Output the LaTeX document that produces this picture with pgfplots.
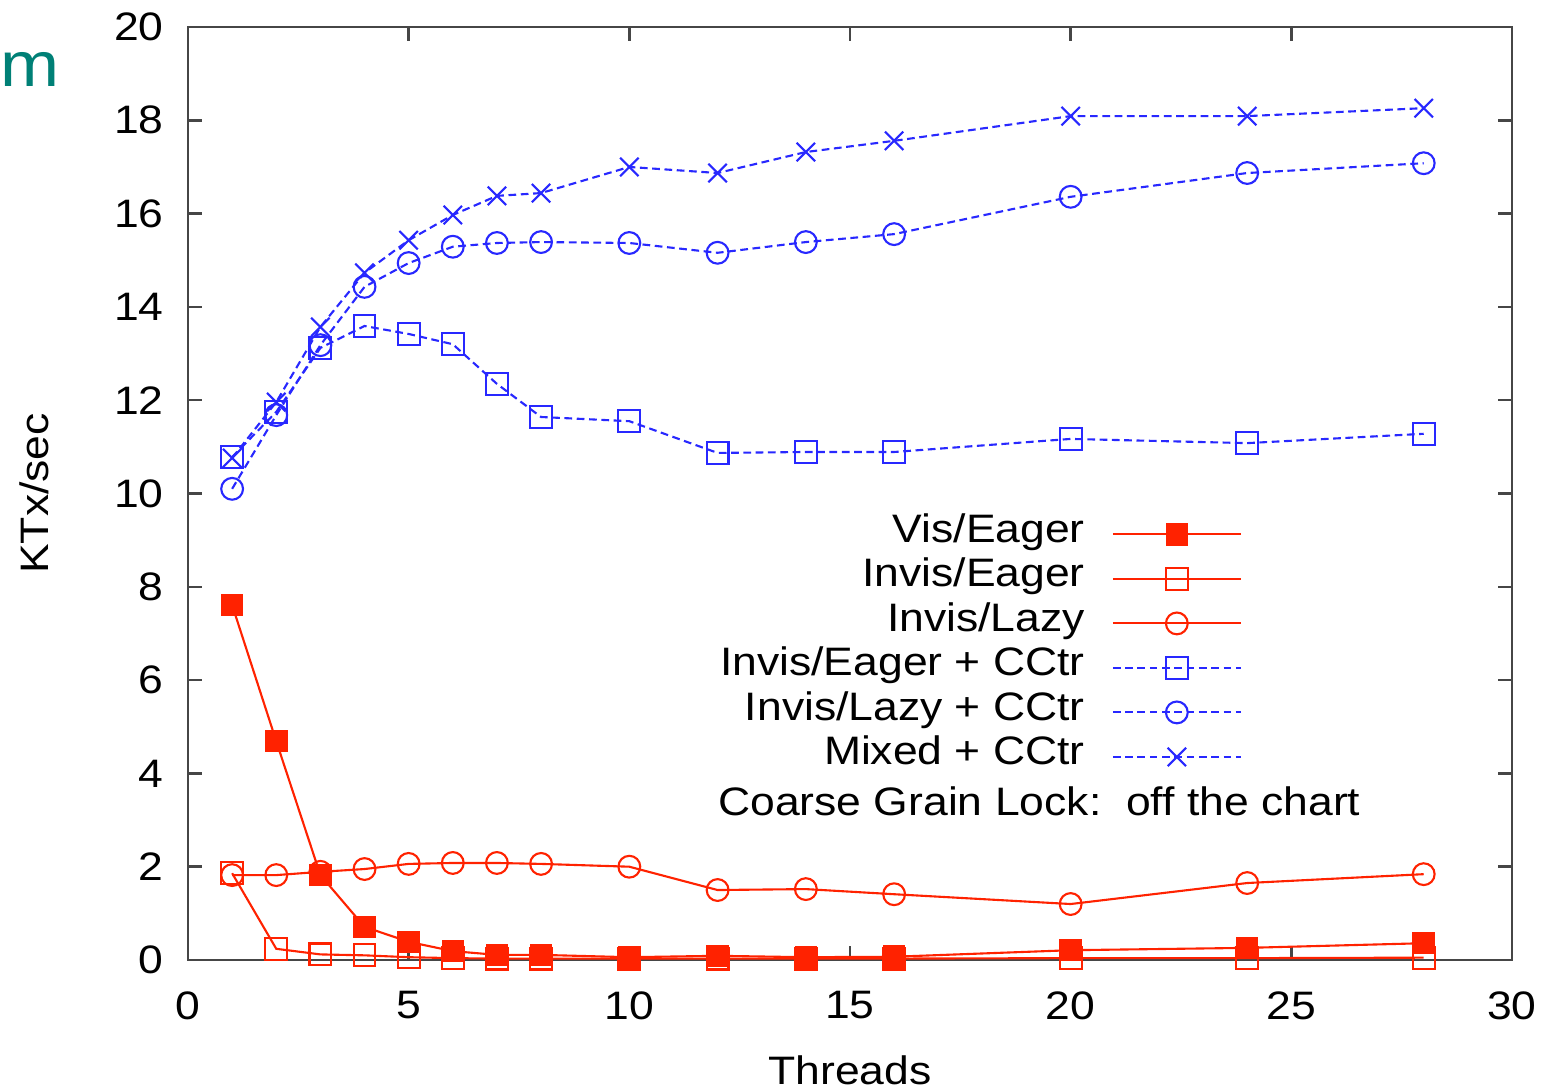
\documentclass[border=0pt]{standalone}
\usepackage{fontspec}
\setmainfont{Liberation Sans}[FakeStretch=1.12]
\usepackage{pgfplots}
\pgfplotsset{compat=1.18}

\definecolor{gpred}{RGB}{255,34,0}
\definecolor{gpblue}{RGB}{40,40,255}
\definecolor{slideteal}{RGB}{0,128,118}
\definecolor{axisgray}{RGB}{70,70,70}

\begin{document}
\begin{tikzpicture}
\begin{axis}[
    width=13.24cm, height=9.33cm, scale only axis,
    xmin=0, xmax=30, ymin=0, ymax=20,
    xtick={0,5,...,30}, ytick={0,2,...,20},
    tick align=inside, xtick pos=both, ytick pos=both,
    major tick length=0.14cm,
    axis line style={line width=0.7pt, axisgray},
    every tick/.style={line width=0.7pt, axisgray},
    /pgf/number format/assume math mode=true,
    tick label style={font=\fontsize{11.3}{13.5}\selectfont},
    yticklabel style={xshift=-0.12cm},
    xticklabel style={yshift=-0.19cm},
    xlabel={Threads}, ylabel={KTx/sec},
    label style={font=\fontsize{11.3}{13.5}\selectfont},
    xlabel style={at={(axis description cs:0.5,-0.118)}, anchor=center},
    ylabel style={at={(axis description cs:-0.116,0.5)}, anchor=center},
    clip=false,
    legend plot pos=right,
    legend cell align=right,
    legend image code/.code={
        \path (0cm,0cm);
        \draw[mark repeat=2, mark phase=2] plot coordinates {(0.27cm,0cm) (0.91cm,0cm) (1.55cm,0cm)};
    },
    legend style={
        draw=none, fill=none, inner sep=0pt, outer sep=0pt,
        at={(axis description cs:0.796,0.480)}, anchor=north east,
        font=\fontsize{11.3}{13.5}\selectfont,
        row sep=0pt,
        nodes={inner sep=0pt, text height=0.30cm, text depth=0.145cm},
    },
]

% red, solid
\addplot[color=gpred, line width=0.6pt, mark=square*, mark size=2.9pt,
    mark options={fill=gpred, draw=gpred}] coordinates {
    (1,7.61) (2,4.69) (3,1.82) (4,0.71) (5,0.39) (6,0.19) (7,0.11) (8,0.11)
    (10,0.06) (12,0.09) (14,0.06) (16,0.07) (20,0.21) (24,0.26) (28,0.36)
};
\addlegendentry{Vis/Eager}

\addplot[color=gpred, line width=0.6pt, mark=square, mark size=3.1pt] coordinates {
    (1,1.86) (2,0.24) (3,0.12) (4,0.10) (5,0.06) (6,0.04) (7,0.03) (8,0.03)
    (10,0.03) (12,0.03) (14,0.03) (16,0.03) (20,0.04) (24,0.04) (28,0.05)
};
\addlegendentry{Invis/Eager}

\addplot[color=gpred, line width=0.6pt, mark=o, mark size=3.1pt] coordinates {
    (1,1.82) (2,1.82) (3,1.89) (4,1.95) (5,2.06) (6,2.08) (7,2.08) (8,2.06)
    (10,2.00) (12,1.50) (14,1.52) (16,1.41) (20,1.20) (24,1.65) (28,1.84)
};
\addlegendentry{Invis/Lazy}

% blue, dashed
\addplot[color=gpblue, line width=0.6pt, dash pattern=on 2.2pt off 1.3pt,
    mark=square, mark size=3.1pt, mark options={solid}] coordinates {
    (1,10.78) (2,11.75) (3,13.12) (4,13.59) (5,13.42) (6,13.20) (7,12.35) (8,11.64)
    (10,11.55) (12,10.87) (14,10.89) (16,10.89) (20,11.17) (24,11.08) (28,11.28)
};
\addlegendentry{Invis/Eager + CCtr}

\addplot[color=gpblue, line width=0.6pt, dash pattern=on 2.2pt off 1.3pt,
    mark=o, mark size=3.1pt, mark options={solid}] coordinates {
    (1,10.10) (2,11.68) (3,13.18) (4,14.43) (5,14.94) (6,15.29) (7,15.37) (8,15.39)
    (10,15.37) (12,15.16) (14,15.39) (16,15.56) (20,16.36) (24,16.87) (28,17.08)
};
\addlegendentry{Invis/Lazy + CCtr}

\addplot[color=gpblue, line width=0.6pt, dash pattern=on 2.2pt off 1.3pt,
    mark=x, mark size=3.7pt, mark options={solid}] coordinates {
    (1,10.76) (2,11.96) (3,13.57) (4,14.73) (5,15.43) (6,15.97) (7,16.38) (8,16.44)
    (10,17.00) (12,16.87) (14,17.32) (16,17.56) (20,18.09) (24,18.09) (28,18.26)
};
\addlegendentry{Mixed + CCtr}

\node[anchor=west, inner sep=0pt, font=\fontsize{11.3}{13.5}\selectfont]
    at (axis description cs:0.400,0.170) {Coarse Grain Lock:\ \ off the chart};

% stray slide text cut by the frame
\node[anchor=west, inner sep=0pt, text=slideteal, font=\fontsize{18}{20}\selectfont]
    at (axis description cs:-0.142,0.954) {m};
\end{axis}
\pgfresetboundingbox
\path[use as bounding box] (-1.88cm,-1.30cm) rectangle (13.67cm,9.60cm);
\end{tikzpicture}
\end{document}
